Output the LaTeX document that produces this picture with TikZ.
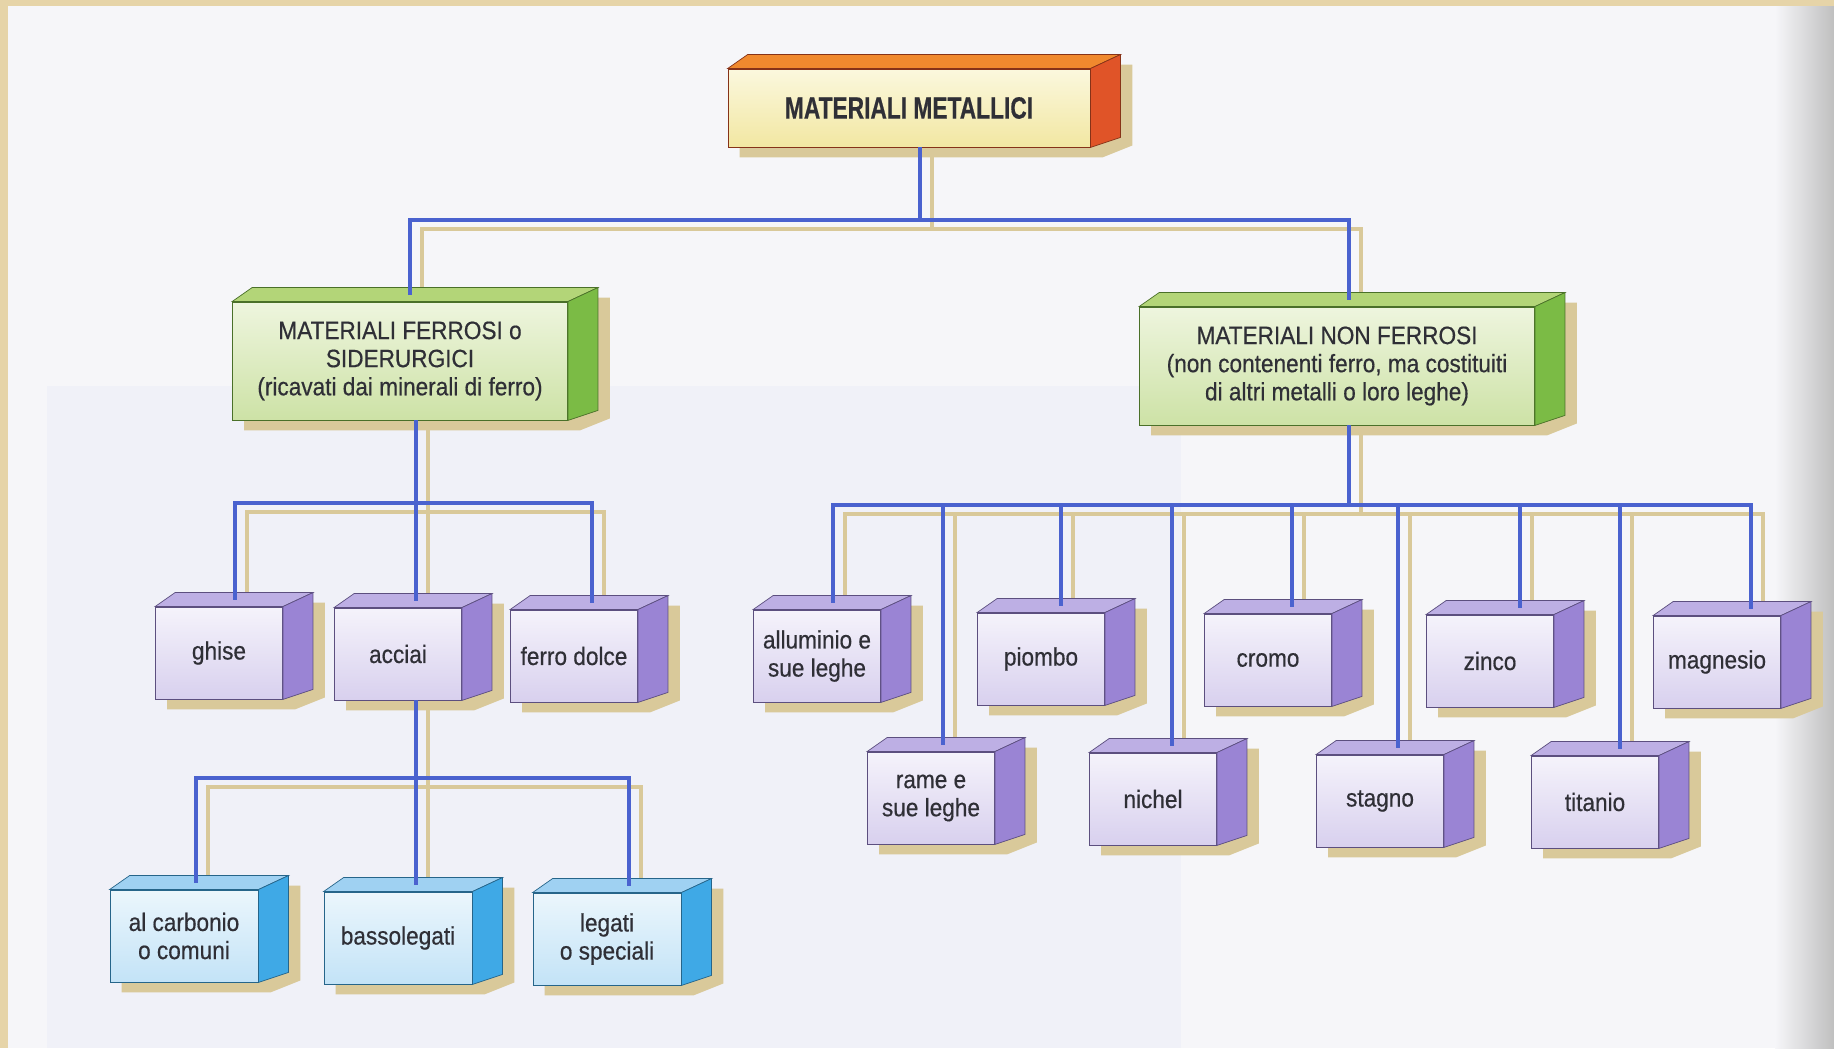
\documentclass[tikz,border=0pt]{standalone}
\usepackage{fontspec}
\setmainfont{Liberation Sans}[FakeStretch=0.9,FakeBold=0.5,BoldFeatures={FakeStretch=0.74,FakeBold=0.5}]
\usetikzlibrary{calc}

\pgfdeclarelayer{bg}
\pgfsetlayers{bg,main}

\definecolor{inkgray}{HTML}{2F2F36}
\definecolor{linkblue}{HTML}{4A62CF}
\definecolor{tanshade}{HTML}{D9C99A}
\definecolor{beige}{HTML}{E6D4A8}
\definecolor{pagecol}{HTML}{F6F6F9}
\definecolor{tintcol}{HTML}{F0F1F8}
% face colours
\definecolor{metalhi}{HTML}{FBF8DE}
\definecolor{metallo}{HTML}{F2E7A2}
\definecolor{metaltop}{HTML}{F0892E}
\definecolor{metalside}{HTML}{E05428}
\definecolor{greenhi}{HTML}{EEF5DE}
\definecolor{greenlo}{HTML}{CDE2A6}
\definecolor{greentop}{HTML}{B3D578}
\definecolor{greenside}{HTML}{7BBB45}
\definecolor{purplehi}{HTML}{F5F3FB}
\definecolor{purplelo}{HTML}{D8D0EE}
\definecolor{purpletop}{HTML}{BDAFE4}
\definecolor{purpleside}{HTML}{9A84D4}
\definecolor{bluehi}{HTML}{EBF6FC}
\definecolor{bluelo}{HTML}{C3E3F7}
\definecolor{bluetop}{HTML}{9FD1F2}
\definecolor{blueside}{HTML}{3FA9E6}

% top and side faces of a box, with its shadow
\newcommand{\boxfaces}[3]{%
  \begin{pgfonlayer}{bg}
    \fill[boxshadow] ($(#1.north west)+(0.64cm,0.08cm)$) -- ($(#1.north east)+(0.84cm,0.08cm)$)
      -- ($(#1.south east)+(0.84cm,0.04cm)$) -- ($(#1.south east)+(0.24cm,-0.2cm)$)
      -- ($(#1.south west)+(0.24cm,-0.2cm)$) -- ($(#1.north west)+(0.24cm,-0.2cm)$) -- cycle;
  \end{pgfonlayer}
  \filldraw[fill=#2, draw=#3!60!black, line width=0.4pt] (#1.north west) -- ($(#1.north west)+(0.4cm,0.28cm)$)
    -- ($(#1.north east)+(0.6cm,0.28cm)$) -- (#1.north east) -- cycle;
  \filldraw[fill=#3, draw=#3!60!black, line width=0.4pt] (#1.north east) -- ($(#1.north east)+(0.6cm,0.28cm)$)
    -- ($(#1.south east)+(0.6cm,0.2cm)$) -- (#1.south east) -- cycle;
}

% all connectors of the tree
\newcommand{\treelinks}[1]{%
  \draw[#1] ($(top.south)+(11,0)$) -- (j1);
  \foreach \n/\s in {fer/10, nonfer/12}
    \draw[#1] (j1) -| ($(\n.north)+(\s,-7)$);
  \draw[#1] ($(fer.south)+(16,0)$) -- (j2);
  \foreach \n/\s in {ghise/16, acciai/18, dolce/18}
    \draw[#1] (j2) -| ($(\n.north)+(\s,-7)$);
  \draw[#1] ($(acciai.south)+(18,0)$) -- (j3);
  \foreach \n/\s in {carbonio/12, basso/18, legati/22}
    \draw[#1] (j3) -| ($(\n.north)+(\s,-7)$);
  \draw[#1] ($(nonfer.south)+(12,0)$) -- (j4);
  \foreach \n/\s in {allum/16, rame/12, piombo/20, nichel/19, cromo/24, stagno/18, zinco/30, titanio/25, magnesio/34}
    \draw[#1] (j4) -| ($(\n.north)+(\s,-7)$);
}

\begin{document}
\begin{tikzpicture}[
    x=0.02cm, y=-0.02cm,
    cubeface/.style={draw=#1, line width=0.5pt, inner sep=2pt, align=center, text=inkgray,
      font={\fontsize{14.3pt}{16pt}\selectfont}},
    metal/.style={cubeface=metalside!60!black, top color=metalhi, bottom color=metallo,
      minimum width=7.24cm, minimum height=1.56cm, font={\fontsize{17.5pt}{20pt}\selectfont\bfseries}},
    group/.style={cubeface=greenside!60!black, top color=greenhi, bottom color=greenlo, minimum height=2.36cm},
    item/.style={cubeface=purpleside!60!black, top color=purplehi, bottom color=purplelo,
      minimum width=2.54cm, minimum height=1.84cm},
    steel/.style={cubeface=blueside!60!black, top color=bluehi, bottom color=bluelo,
      minimum width=2.96cm, minimum height=1.84cm},
    link/.style={draw=linkblue, line width=2.3pt},
    tanline/.style={draw=tanshade, line width=2.3pt},
    boxshadow/.style={fill=tanshade}
  ]
  \useasboundingbox (0,0) rectangle (1834,1048);

  % Paper
  \begin{pgfonlayer}{bg}
    \fill[beige] (0,0) rectangle (1834,1048);
    \fill[pagecol] (8,6) rectangle (1834,1048);
    \fill[tintcol] (47,386) rectangle (1181,1048);
    \shade[left color=pagecol, right color=gray!50] (1775,6) rectangle (1834,1048);
  \end{pgfonlayer}

  % Root
  \node[metal] (top) at (909,108) {MATERIALI METALLICI};

  % Main groups
  \node[group, minimum width=6.7cm] (fer) at (400,361)
    {MATERIALI FERROSI o\\SIDERURGICI\\(ricavati dai minerali di ferro)};
  \node[group, minimum width=7.9cm] (nonfer) at (1337,366)
    {MATERIALI NON FERROSI\\(non contenenti ferro, ma costituiti\\di altri metalli o loro leghe)};

  % Ferrous materials
  \node[item] (ghise) at (219,653) {ghise};
  \node[item] (acciai) at (398,654) {acciai};
  \node[item] (dolce) at (574,656) {ferro dolce};

  % Steels
  \node[steel] (carbonio) at (184,936) {al carbonio\\o comuni};
  \node[steel] (basso) at (398,938) {bassolegati};
  \node[steel] (legati) at (607,939) {legati\\o speciali};

  % Non-ferrous materials, upper row
  \node[item] (allum) at (817,656) {alluminio e\\sue leghe};
  \node[item] (piombo) at (1041,659) {piombo};
  \node[item] (cromo) at (1268,660) {cromo};
  \node[item] (zinco) at (1490,661) {zinco};
  \node[item] (magnesio) at (1717,662) {magnesio};

  % Non-ferrous materials, lower row
  \node[item] (rame) at (931,798) {rame e\\sue leghe};
  \node[item] (nichel) at (1153,799) {nichel};
  \node[item] (stagno) at (1380,801) {stagno};
  \node[item] (titanio) at (1595,802) {titanio};

  % 3D faces
  \boxfaces{top}{metaltop}{metalside}
  \foreach \n in {fer, nonfer} {\boxfaces{\n}{greentop}{greenside}}
  \foreach \n in {ghise, acciai, dolce, allum, piombo, cromo, zinco, magnesio, rame, nichel, stagno, titanio}
    {\boxfaces{\n}{purpletop}{purpleside}}
  \foreach \n in {carbonio, basso, legati} {\boxfaces{\n}{bluetop}{blueside}}

  % Junctions
  \coordinate (j1) at (920,220);
  \coordinate (j2) at (416,503);
  \coordinate (j3) at (416,778);
  \coordinate (j4) at (1349,505);

  % Connectors with their shadow
  \begin{pgfonlayer}{bg}
    \begin{scope}[transform canvas={shift={(0.24cm,-0.18cm)}}]
      \treelinks{tanline}
    \end{scope}
  \end{pgfonlayer}
  \treelinks{link}
\end{tikzpicture}
\end{document}
